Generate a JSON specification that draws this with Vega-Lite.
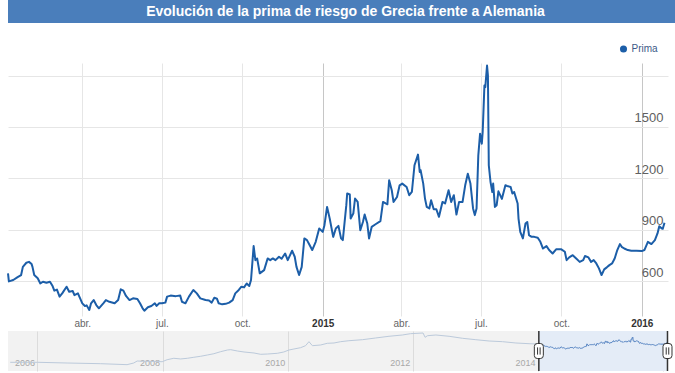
{
  "$schema": "https://vega.github.io/schema/vega-lite/v6.json",
  "padding": 0,
  "background": "white",
  "config": {"view": {"stroke": null}, "font": "Liberation Sans"},
  "datasets": {
    "prima": [
      {"fecha":"2014-01-06","prima":645},{"fecha":"2014-01-07","prima":598},{"fecha":"2014-01-12","prima":606},{"fecha":"2014-01-17","prima":623},{"fecha":"2014-01-21","prima":635},{"fecha":"2014-01-23","prima":683},{"fecha":"2014-01-27","prima":707},{"fecha":"2014-01-30","prima":712},{"fecha":"2014-02-02","prima":699},{"fecha":"2014-02-03","prima":683},{"fecha":"2014-02-05","prima":635},{"fecha":"2014-02-09","prima":616},{"fecha":"2014-02-12","prima":586},{"fecha":"2014-02-15","prima":596},{"fecha":"2014-02-19","prima":590},{"fecha":"2014-02-23","prima":596},{"fecha":"2014-02-26","prima":571},{"fecha":"2014-02-28","prima":544},{"fecha":"2014-03-03","prima":550},{"fecha":"2014-03-06","prima":509},{"fecha":"2014-03-09","prima":528},{"fecha":"2014-03-14","prima":567},{"fecha":"2014-03-17","prima":538},{"fecha":"2014-03-21","prima":542},{"fecha":"2014-03-23","prima":518},{"fecha":"2014-03-27","prima":528},{"fecha":"2014-03-29","prima":505},{"fecha":"2014-04-01","prima":470},{"fecha":"2014-04-04","prima":454},{"fecha":"2014-04-06","prima":458},{"fecha":"2014-04-09","prima":431},{"fecha":"2014-04-11","prima":470},{"fecha":"2014-04-14","prima":489},{"fecha":"2014-04-17","prima":460},{"fecha":"2014-04-20","prima":441},{"fecha":"2014-04-25","prima":470},{"fecha":"2014-04-28","prima":489},{"fecha":"2014-05-02","prima":479},{"fecha":"2014-05-08","prima":470},{"fecha":"2014-05-12","prima":489},{"fecha":"2014-05-15","prima":552},{"fecha":"2014-05-18","prima":544},{"fecha":"2014-05-21","prima":513},{"fecha":"2014-05-25","prima":489},{"fecha":"2014-05-29","prima":499},{"fecha":"2014-06-03","prima":495},{"fecha":"2014-06-06","prima":470},{"fecha":"2014-06-09","prima":441},{"fecha":"2014-06-11","prima":427},{"fecha":"2014-06-15","prima":447},{"fecha":"2014-06-19","prima":454},{"fecha":"2014-06-23","prima":470},{"fecha":"2014-06-25","prima":455},{"fecha":"2014-06-28","prima":470},{"fecha":"2014-07-01","prima":470},{"fecha":"2014-07-05","prima":474},{"fecha":"2014-07-07","prima":509},{"fecha":"2014-07-11","prima":515},{"fecha":"2014-07-17","prima":512},{"fecha":"2014-07-22","prima":515},{"fecha":"2014-07-24","prima":479},{"fecha":"2014-07-28","prima":470},{"fecha":"2014-08-01","prima":509},{"fecha":"2014-08-06","prima":548},{"fecha":"2014-08-10","prima":528},{"fecha":"2014-08-14","prima":499},{"fecha":"2014-08-20","prima":489},{"fecha":"2014-08-24","prima":486},{"fecha":"2014-08-27","prima":474},{"fecha":"2014-08-30","prima":503},{"fecha":"2014-09-02","prima":497},{"fecha":"2014-09-04","prima":470},{"fecha":"2014-09-08","prima":464},{"fecha":"2014-09-12","prima":467},{"fecha":"2014-09-16","prima":474},{"fecha":"2014-09-20","prima":489},{"fecha":"2014-09-23","prima":528},{"fecha":"2014-09-27","prima":548},{"fecha":"2014-09-30","prima":567},{"fecha":"2014-10-03","prima":563},{"fecha":"2014-10-06","prima":586},{"fecha":"2014-10-09","prima":571},{"fecha":"2014-10-11","prima":606},{"fecha":"2014-10-14","prima":804},{"fecha":"2014-10-16","prima":722},{"fecha":"2014-10-18","prima":732},{"fecha":"2014-10-21","prima":645},{"fecha":"2014-10-26","prima":664},{"fecha":"2014-10-30","prima":732},{"fecha":"2014-11-02","prima":722},{"fecha":"2014-11-05","prima":732},{"fecha":"2014-11-08","prima":722},{"fecha":"2014-11-12","prima":742},{"fecha":"2014-11-15","prima":730},{"fecha":"2014-11-19","prima":761},{"fecha":"2014-11-22","prima":722},{"fecha":"2014-11-27","prima":777},{"fecha":"2014-11-30","prima":742},{"fecha":"2014-12-02","prima":683},{"fecha":"2014-12-05","prima":635},{"fecha":"2014-12-08","prima":683},{"fecha":"2014-12-11","prima":849},{"fecha":"2014-12-14","prima":839},{"fecha":"2014-12-17","prima":810},{"fecha":"2014-12-20","prima":781},{"fecha":"2014-12-24","prima":829},{"fecha":"2014-12-28","prima":907},
      {"fecha":"2015-01-01","prima":887},{"fecha":"2015-01-03","prima":926},{"fecha":"2015-01-06","prima":1033},{"fecha":"2015-01-09","prima":965},{"fecha":"2015-01-13","prima":858},{"fecha":"2015-01-16","prima":907},{"fecha":"2015-01-19","prima":922},{"fecha":"2015-01-22","prima":849},{"fecha":"2015-01-24","prima":839},{"fecha":"2015-01-28","prima":1043},{"fecha":"2015-01-29","prima":1111},{"fecha":"2015-02-01","prima":1105},{"fecha":"2015-02-02","prima":965},{"fecha":"2015-02-05","prima":994},{"fecha":"2015-02-07","prima":1082},{"fecha":"2015-02-10","prima":1062},{"fecha":"2015-02-13","prima":897},{"fecha":"2015-02-16","prima":945},{"fecha":"2015-02-18","prima":988},{"fecha":"2015-02-21","prima":936},{"fecha":"2015-02-23","prima":849},{"fecha":"2015-02-26","prima":916},{"fecha":"2015-03-02","prima":930},{"fecha":"2015-03-08","prima":950},{"fecha":"2015-03-11","prima":1062},{"fecha":"2015-03-14","prima":1053},{"fecha":"2015-03-16","prima":1048},{"fecha":"2015-03-18","prima":1188},{"fecha":"2015-03-21","prima":1130},{"fecha":"2015-03-23","prima":1062},{"fecha":"2015-03-27","prima":1091},{"fecha":"2015-03-30","prima":1159},{"fecha":"2015-04-02","prima":1169},{"fecha":"2015-04-07","prima":1149},{"fecha":"2015-04-10","prima":1101},{"fecha":"2015-04-13","prima":1120},{"fecha":"2015-04-16","prima":1276},{"fecha":"2015-04-20","prima":1338},{"fecha":"2015-04-22","prima":1237},{"fecha":"2015-04-23","prima":1247},{"fecha":"2015-04-26","prima":1169},{"fecha":"2015-04-28","prima":1082},{"fecha":"2015-04-30","prima":1033},{"fecha":"2015-05-03","prima":1024},{"fecha":"2015-05-05","prima":1072},{"fecha":"2015-05-08","prima":1019},{"fecha":"2015-05-11","prima":1019},{"fecha":"2015-05-14","prima":975},{"fecha":"2015-05-18","prima":1062},{"fecha":"2015-05-21","prima":1053},{"fecha":"2015-05-25","prima":1130},{"fecha":"2015-05-28","prima":1062},{"fecha":"2015-05-31","prima":1101},{"fecha":"2015-06-03","prima":988},{"fecha":"2015-06-06","prima":1062},{"fecha":"2015-06-10","prima":1062},{"fecha":"2015-06-13","prima":1159},{"fecha":"2015-06-16","prima":1227},{"fecha":"2015-06-19","prima":1169},{"fecha":"2015-06-22","prima":1024},{"fecha":"2015-06-24","prima":985},{"fecha":"2015-06-26","prima":1024},{"fecha":"2015-06-28","prima":1334},{"fecha":"2015-06-30","prima":1460},{"fecha":"2015-07-02","prima":1402},{"fecha":"2015-07-03","prima":1470},{"fecha":"2015-07-05","prima":1742},{"fecha":"2015-07-06","prima":1732},{"fecha":"2015-07-08","prima":1858},{"fecha":"2015-07-09","prima":1800},{"fecha":"2015-07-10","prima":1276},{"fecha":"2015-07-12","prima":1178},{"fecha":"2015-07-14","prima":1120},{"fecha":"2015-07-15","prima":1169},{"fecha":"2015-07-17","prima":1033},{"fecha":"2015-07-19","prima":1043},{"fecha":"2015-07-21","prima":1124},{"fecha":"2015-07-25","prima":1080},{"fecha":"2015-07-29","prima":1159},{"fecha":"2015-07-31","prima":1155},{"fecha":"2015-08-04","prima":1149},{"fecha":"2015-08-06","prima":1111},{"fecha":"2015-08-08","prima":1120},{"fecha":"2015-08-12","prima":1053},{"fecha":"2015-08-13","prima":965},{"fecha":"2015-08-15","prima":887},{"fecha":"2015-08-18","prima":849},{"fecha":"2015-08-21","prima":936},{"fecha":"2015-08-23","prima":945},{"fecha":"2015-08-25","prima":868},{"fecha":"2015-08-28","prima":858},{"fecha":"2015-08-31","prima":858},{"fecha":"2015-09-04","prima":853},{"fecha":"2015-09-07","prima":829},{"fecha":"2015-09-10","prima":790},{"fecha":"2015-09-14","prima":804},{"fecha":"2015-09-17","prima":781},{"fecha":"2015-09-21","prima":761},{"fecha":"2015-09-25","prima":785},{"fecha":"2015-10-01","prima":785},{"fecha":"2015-10-05","prima":771},{"fecha":"2015-10-07","prima":722},{"fecha":"2015-10-10","prima":738},{"fecha":"2015-10-14","prima":751},{"fecha":"2015-10-18","prima":732},{"fecha":"2015-10-22","prima":712},{"fecha":"2015-10-26","prima":722},{"fecha":"2015-10-28","prima":746},{"fecha":"2015-11-01","prima":738},{"fecha":"2015-11-04","prima":712},{"fecha":"2015-11-07","prima":722},{"fecha":"2015-11-10","prima":703},{"fecha":"2015-11-13","prima":674},{"fecha":"2015-11-16","prima":635},{"fecha":"2015-11-19","prima":668},{"fecha":"2015-11-22","prima":680},{"fecha":"2015-11-25","prima":693},{"fecha":"2015-11-28","prima":703},{"fecha":"2015-12-01","prima":732},{"fecha":"2015-12-04","prima":781},{"fecha":"2015-12-07","prima":816},{"fecha":"2015-12-09","prima":800},{"fecha":"2015-12-12","prima":790},{"fecha":"2015-12-16","prima":781},{"fecha":"2015-12-20","prima":777},{"fecha":"2015-12-26","prima":777},
      {"fecha":"2016-01-01","prima":775},{"fecha":"2016-01-04","prima":781},{"fecha":"2016-01-08","prima":829},{"fecha":"2016-01-12","prima":816},{"fecha":"2016-01-16","prima":839},{"fecha":"2016-01-19","prima":878},{"fecha":"2016-01-21","prima":920},{"fecha":"2016-01-24","prima":907},{"fecha":"2016-01-25","prima":905},{"fecha":"2016-01-27","prima":940}
    ],
    "nav": [
      {"fecha":"2005-07-26","prima":83},{"fecha":"2006-01-01","prima":83},{"fecha":"2006-06-23","prima":76},{"fecha":"2007-01-03","prima":70},{"fecha":"2007-06-08","prima":62},{"fecha":"2007-07-17","prima":76},{"fecha":"2007-08-06","prima":97},{"fecha":"2007-12-30","prima":89},{"fecha":"2008-01-28","prima":114},{"fecha":"2008-03-07","prima":136},{"fecha":"2008-04-16","prima":125},{"fecha":"2008-05-25","prima":136},{"fecha":"2008-07-02","prima":154},{"fecha":"2008-08-11","prima":174},{"fecha":"2008-09-19","prima":204},{"fecha":"2008-10-27","prima":239},{"fecha":"2008-12-05","prima":306},{"fecha":"2009-01-14","prima":377},{"fecha":"2009-02-02","prima":392},{"fecha":"2009-03-13","prima":334},{"fecha":"2009-04-21","prima":295},{"fecha":"2009-06-18","prima":261},{"fecha":"2009-07-27","prima":222},{"fecha":"2009-09-04","prima":230},{"fecha":"2009-11-01","prima":251},{"fecha":"2009-12-09","prima":295},{"fecha":"2010-01-08","prima":377},{"fecha":"2010-02-06","prima":426},{"fecha":"2010-03-17","prima":501},{"fecha":"2010-04-15","prima":641},{"fecha":"2010-05-05","prima":1050},{"fecha":"2010-05-25","prima":641},{"fecha":"2010-07-12","prima":699},{"fecha":"2010-08-20","prima":860},{"fecha":"2010-09-28","prima":894},{"fecha":"2010-11-06","prima":1050},{"fecha":"2010-12-24","prima":1185},{"fecha":"2011-03-13","prima":1341},{"fecha":"2011-05-29","prima":1654},{"fecha":"2011-08-15","prima":2040},{"fecha":"2011-11-01","prima":2390},{"fecha":"2011-12-19","prima":2814},{"fecha":"2012-03-01","prima":3060},{"fecha":"2012-03-13","prima":1802},{"fecha":"2012-03-27","prima":2197},{"fecha":"2012-05-15","prima":2390},{"fecha":"2012-07-31","prima":2040},{"fecha":"2012-10-18","prima":1593},{"fecha":"2013-01-03","prima":1341},{"fecha":"2013-03-22","prima":1142},{"fecha":"2013-06-08","prima":1050},{"fecha":"2013-08-25","prima":894},{"fecha":"2013-11-10","prima":819},{"fecha":"2014-01-06","prima":789}
    ],
    "sel": [{"inicio":"2014-01-06","fin":"2016-01-27"}]
  },
  "concat": [
    {
      "width": 675,
      "height": 23,
      "view": {"fill": "#4a7ebb", "stroke": null},
      "data": {"values": [{"t": "Evolución de la prima de riesgo de Grecia frente a Alemania"}]},
      "mark": {"type": "text", "color": "white", "fontSize": 14, "fontWeight": "bold", "font": "Liberation Sans"},
      "encoding": {"text": {"field": "t"}}
    },
    {
      "concat": [
        {
          "width": 660,
          "height": 253,
          "data": {"name": "prima"},
          "mark": {"type": "line", "strokeWidth": 2, "strokeJoin": "round"},
          "encoding": {
            "x": {
              "field": "fecha", "type": "temporal",
              "scale": {"type": "utc", "domain": [{"year":2014,"month":1,"date":6,"utc":true},{"year":2016,"month":1,"date":31,"utc":true}]},
              "axis": {
                "title": null,
                "values": [{"year":2014,"month":4,"date":1,"utc":true},{"year":2014,"month":7,"date":1,"utc":true},{"year":2014,"month":10,"date":1,"utc":true},{"year":2015,"month":1,"date":1,"utc":true},{"year":2015,"month":4,"date":1,"utc":true},{"year":2015,"month":7,"date":1,"utc":true},{"year":2015,"month":10,"date":1,"utc":true},{"year":2016,"month":1,"date":1,"utc":true}],
                "labelExpr": "utcmonth(datum.value) == 0 ? utcFormat(datum.value, '%Y') : (utcmonth(datum.value) == 3 ? 'abr.' : (utcmonth(datum.value) == 6 ? 'jul.' : 'oct.'))",
                "grid": true,
                "gridColor": {"condition": {"test": "utcmonth(datum.value) == 0", "value": "#c6c6c6"}, "value": "#e6e6e6"},
                "domain": false, "ticks": false, "tickSize": 0,
                "labelPadding": 2, "labelBaseline": "top", "labelFontSize": 10,
                "labelColor": {"condition": {"test": "utcmonth(datum.value) == 0", "value": "#333333"}, "value": "#666666"},
                "labelFontWeight": {"condition": {"test": "utcmonth(datum.value) == 0", "value": "bold"}, "value": "normal"},
                "labelFlush": false, "labelOverlap": false
              }
            },
            "y": {
              "field": "prima", "type": "quantitative",
              "scale": {"domain": [396, 1873], "nice": false, "zero": false},
              "axis": {
                "title": null, "orient": "left",
                "values": [600, 900, 1200, 1500, 1800],
                "format": "d",
                "labelExpr": "datum.value >= 1800 ? '' : datum.label",
                "grid": true, "gridColor": "#e6e6e6",
                "domain": false, "ticks": true, "tickSize": 0, "tickColor": "transparent",
                "labelPadding": -655, "labelAlign": "right", "labelBaseline": "alphabetic", "labelOffset": -5,
                "labelFontSize": 13, "labelColor": "#606060",
                "labelOverlap": false, "minExtent": 8
              }
            },
            "color": {
              "datum": "Prima",
              "scale": {"range": ["#1c5ea8"]},
              "legend": {
                "orient": "none", "legendX": 610.5, "legendY": 44,
                "title": null, "padding": 0,
                "symbolType": "circle", "symbolSize": 50,
                "symbolFillColor": "#1c5ea8", "symbolStrokeColor": "#1c5ea8", "symbolStrokeWidth": 0,
                "labelFontSize": 10, "labelColor": "#3d5a87", "labelOffset": 3,
                "encode": {"symbols": {"update": {"fill": {"value": "#1c5ea8"}, "stroke": {"value": "#1c5ea8"}, "strokeWidth": {"value": 0}, "opacity": {"value": 1}}}}
              }
            }
          }
        },
        {
          "width": 660,
          "height": 40,
          "view": {"fill": "#f2f2f2", "stroke": null},
          "layer": [
            {
              "data": {"name": "sel"},
              "mark": {"type": "rect", "color": "#e4ecf7"},
              "encoding": {
                "x": {
                  "field": "inicio", "type": "temporal",
                  "scale": {"type": "utc", "domain": [{"year":2005,"month":7,"date":13,"utc":true},{"year":2016,"month":1,"date":30,"utc":true}]},
                  "axis": {
                    "title": null,
                    "values": [{"year":2006,"utc":true},{"year":2008,"utc":true},{"year":2010,"utc":true},{"year":2012,"utc":true},{"year":2014,"utc":true},{"year":2016,"utc":true}],
                    "labelExpr": "utcFormat(datum.value, '%Y')",
                    "grid": true, "gridColor": "#dcdcdc",
                    "domain": false, "ticks": false, "tickSize": 0,
                    "labelAlign": "right", "labelOffset": -3, "labelBaseline": "middle", "labelPadding": -9,
                    "labelFontSize": 9, "labelColor": "#a8a8a8",
                    "labelFlush": false, "labelOverlap": false
                  }
                },
                "x2": {"field": "fin"}
              }
            },
            {
              "data": {"name": "nav"},
              "mark": {"type": "line", "color": "#bccadb", "strokeWidth": 1},
              "encoding": {
                "x": {"field": "fecha", "type": "temporal", "scale": {"type": "utc", "domain": [{"year":2005,"month":7,"date":13,"utc":true},{"year":2016,"month":1,"date":30,"utc":true}]}},
                "y": {
                  "field": "prima", "type": "quantitative",
                  "scale": {"type": "log", "domain": [28.4, 3915], "nice": false},
                  "axis": {"title": null, "orient": "left", "labels": false, "ticks": true, "tickSize": 0, "tickColor": "transparent", "domain": false, "grid": false, "minExtent": 8}
                }
              }
            },
            {
              "data": {"name": "prima"},
              "mark": {"type": "line", "color": "#4f7fc0", "strokeWidth": 1},
              "encoding": {
                "x": {"field": "fecha", "type": "temporal", "scale": {"type": "utc", "domain": [{"year":2005,"month":7,"date":13,"utc":true},{"year":2016,"month":1,"date":30,"utc":true}]}},
                "y": {"field": "prima", "type": "quantitative", "scale": {"type": "log", "domain": [28.4, 3915], "nice": false}}
              }
            },
            {
              "data": {"name": "sel"},
              "transform": [{"fold": ["inicio", "fin"]}],
              "layer": [
                {
                  "mark": {"type": "rule", "color": "#333333", "strokeWidth": 1.5},
                  "encoding": {"x": {"field": "value", "type": "temporal", "scale": {"type": "utc", "domain": [{"year":2005,"month":7,"date":13,"utc":true},{"year":2016,"month":1,"date":30,"utc":true}]}}}
                },
                {
                  "mark": {"type": "point", "shape": "M-0.2,-1 L0.2,-1 Q0.6,-1 0.6,-0.6 L0.6,0.6 Q0.6,1 0.2,1 L-0.2,1 Q-0.6,1 -0.6,0.6 L-0.6,-0.6 Q-0.6,-1 -0.2,-1 Z", "size": 225, "filled": true, "fill": "white", "stroke": "#333333", "strokeWidth": 1, "opacity": 1},
                  "encoding": {"x": {"field": "value", "type": "temporal", "scale": {"type": "utc", "domain": [{"year":2005,"month":7,"date":13,"utc":true},{"year":2016,"month":1,"date":30,"utc":true}]}}}
                },
                {
                  "mark": {"type": "point", "shape": "M-0.17,-0.48 L-0.17,0.48 M0.17,-0.48 L0.17,0.48", "size": 225, "filled": false, "stroke": "#333333", "strokeWidth": 1, "opacity": 1},
                  "encoding": {"x": {"field": "value", "type": "temporal", "scale": {"type": "utc", "domain": [{"year":2005,"month":7,"date":13,"utc":true},{"year":2016,"month":1,"date":30,"utc":true}]}}}
                }
              ]
            }
          ]
        }
      ],
      "columns": 1,
      "align": "none",
      "spacing": 2
    }
  ],
  "columns": 1,
  "align": "none",
  "spacing": 37
}
